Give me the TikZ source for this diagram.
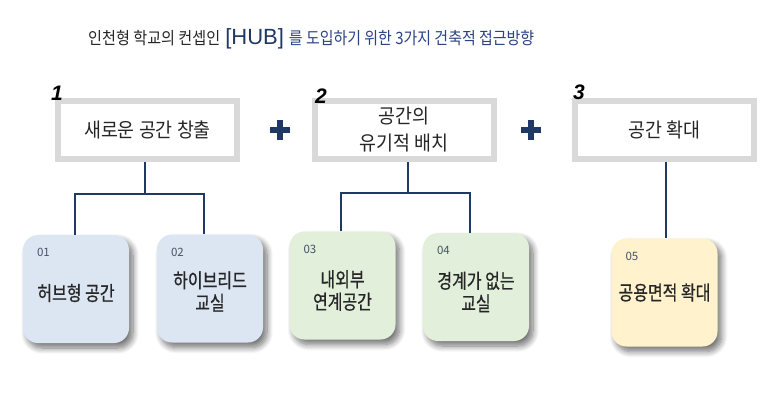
\documentclass[tikz,border=0pt]{standalone}
\usepackage{fontspec}
\setmainfont{Noto Sans CJK KR}
\newfontfamily\numfont{Liberation Sans}
\newfontfamily\hdrfont{Noto Sans CJK KR}[FakeStretch=0.92]
\newfontfamily\titlefonta{Noto Sans CJK KR}[FakeStretch=0.89]
\newfontfamily\titlefontb{Noto Sans CJK KR}[FakeStretch=0.88]
\newfontfamily\condbold{Noto Sans CJK KR}[FakeStretch=0.8, FakeBold=0.7]
\usetikzlibrary{shadows.blur}
\definecolor{navy}{HTML}{203864}
\definecolor{titlenavy}{HTML}{2B4385}
\definecolor{hdrgray}{HTML}{D9D9D9}
\definecolor{fillblue}{HTML}{DCE6F2}
\definecolor{fillgreen}{HTML}{E2EFDA}
\definecolor{fillyellow}{HTML}{FFF2CC}
\definecolor{numgray}{HTML}{44546A}
\definecolor{txt}{HTML}{262626}
\tikzset{
  hdrbox/.style={draw=hdrgray, line width=6pt, fill=white, minimum width=179pt, minimum height=58pt, inner sep=0pt, align=center, font=\hdrfont\fontsize{20}{27}\selectfont, text=txt},
  card/.style={rounded corners=15pt, minimum width=106pt, minimum height=108pt, inner sep=0pt,
    blur shadow={shadow xshift=4pt, shadow yshift=-5pt, shadow blur steps=10, shadow blur radius=6pt, shadow opacity=55}},
  cardtext/.style={align=center, font=\condbold\fontsize{20}{22.5}\selectfont, text=txt},
  cardnum/.style={anchor=west, font=\fontsize{11.5}{12}\selectfont, text=numgray, inner sep=0pt},
  hdrnum/.style={font=\numfont\bfseries\itshape\fontsize{21}{21}\selectfont, text=black, inner sep=0pt},
  conn/.style={draw=navy, line width=2pt},
  plusline/.style={draw=navy, line width=6.5pt}
}
\begin{document}
\begin{tikzpicture}[x=1pt, y=-1pt]
\useasboundingbox (0,0) rectangle (778,418);
% title
\node[anchor=base west, inner sep=0pt] (title) at (88,44)
  {\titlefonta\fontsize{17}{17}\selectfont\color{txt}인천형 학교의 컨셉인\hspace{5pt}\numfont\color{navy}\fontsize{22}{22}\selectfont[HUB]\hspace{5pt}\titlefontb\fontsize{17}{17}\selectfont\color{titlenavy}를 도입하기 위한 3가지 건축적 접근방향};
% header boxes
\node[hdrbox] (h1) at (147.5,130) {새로운 공간 창출};
\node[hdrbox] (h2) at (404,130) {공간의\\유기적 배치};
\node[hdrbox] (h3) at (664.5,130) {공간 확대};
\node[hdrnum] (n1) at (57,93) {1};
\node[hdrnum] (n2) at (321,96) {2};
\node[hdrnum] (n3) at (579,92) {3};
% plus signs
\coordinate (p1) at (280,130);
\coordinate (p2) at (531,130);
\foreach \p in {p1,p2}{
  \draw[plusline] ([xshift=-10pt]\p) -- ([xshift=10pt]\p);
  \draw[plusline] ([yshift=-10pt]\p) -- ([yshift=10pt]\p);
}
% cards
\node[card, fill=fillblue] (b1) at (76,289) {};
\node[card, fill=fillblue] (b2) at (210,288.5) {};
\node[card, fill=fillgreen] (b3) at (342.5,285.5) {};
\node[card, fill=fillgreen] (b4) at (476,287) {};
\node[card, fill=fillyellow] (b5) at (664.5,292.5) {};
\node[cardnum] (c1) at ([xshift=14pt,yshift=-18pt]b1.north west) {01};
\node[cardnum] (c2) at ([xshift=14pt,yshift=-18pt]b2.north west) {02};
\node[cardnum] (c3) at ([xshift=14pt,yshift=-18pt]b3.north west) {03};
\node[cardnum] (c4) at ([xshift=14pt,yshift=-18pt]b4.north west) {04};
\node[cardnum] (c5) at ([xshift=14pt,yshift=-18pt]b5.north west) {05};
\node[cardtext] (t1) at ([yshift=-4pt]b1.center) {허브형 공간};
\node[cardtext] (t2) at ([yshift=-3pt]b2.center) {하이브리드\\교실};
\node[cardtext] (t3) at ([yshift=-5pt]b3.center) {내외부\\연계공간};
\node[cardtext] (t4) at ([yshift=-5pt]b4.center) {경계가 없는\\교실};
\node[cardtext] (t5) at (b5.center) {공용면적 확대};
% connectors
\coordinate (j1) at ([xshift=-3pt,yshift=-32pt]h1.south);
\coordinate (j2) at ([xshift=4pt,yshift=-31pt]h2.south);
\draw[conn] ([xshift=-3pt]h1.south) -- (j1);
\draw[conn] ([xshift=-1pt]b1.north) |- (j1) -| ([xshift=-6pt]b2.north);
\draw[conn] ([xshift=4pt]h2.south) -- (j2);
\draw[conn] ([xshift=-1.5pt]b3.north) |- (j2) -| ([xshift=-6pt]b4.north);
\draw[conn] ([xshift=1.5pt]h3.south) -- ([xshift=1.5pt]b5.north);
\end{tikzpicture}
\end{document}
